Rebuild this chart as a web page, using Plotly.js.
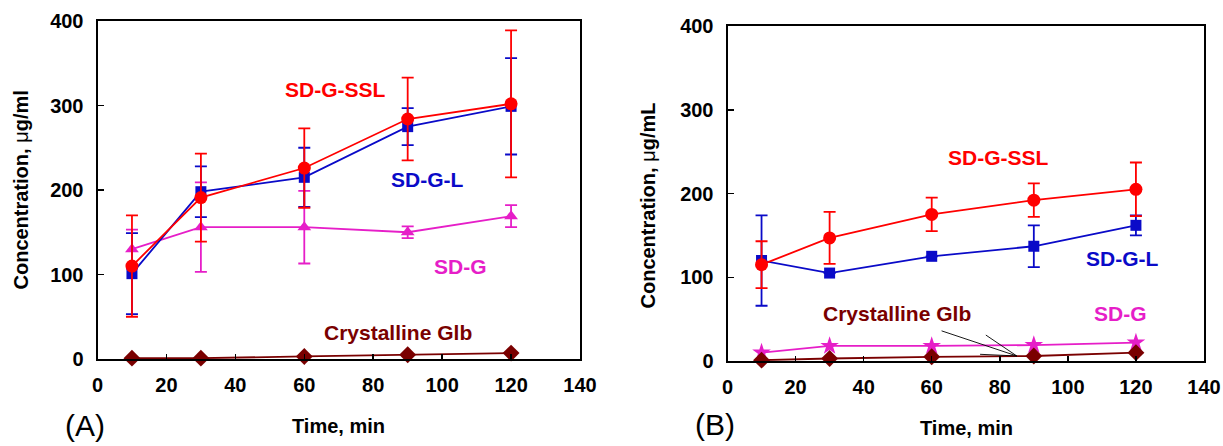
<!DOCTYPE html>
<html>
<head>
<meta charset="utf-8">
<script src="https://cdn.plot.ly/plotly-3.0.1.min.js"></script>
<style>html,body{margin:0;padding:0;background:#fff;}#chart{width:1223px;height:446px;}</style>
</head>
<body>
<div id="chart"></div>
<script>
// ---- data ----
const timeMin = [10, 30, 60, 90, 120];
const xTickVals = [0, 20, 40, 60, 80, 100, 120, 140];
const yTickVals = [0, 100, 200, 300, 400];

// Panel A
const aSSL = [110, 191, 226, 284, 302];
const aSSLerr = [60, 52, 47, 49, 87];
const aL = [101, 198, 215, 275, 299];
const aLerr = [48, 30, 35, 22, 57];
const aG = [130, 156, 156, 150, 169];
const aGerr = [23, 53, 43, 7, 13];
const aCryst = [1, 1, 3, 5, 7];

// Panel B
const bSSL = [115, 147, 175, 192, 205];
const bSSLerr = [28, 31, 20, 20, 32];
const bL = [120, 105, 125, 137, 162];
const bLerr = [54, 0, 0, 25, 12];
const bG = [10, 18, 18, 19, 22];
const bCryst = [1, 3, 5, 6, 10];

// callout lines in panel B (from label toward curves), data coords
const calloutStartX = [62.9, 75.9, 74.2];
const calloutStartY = [36, 31, 8];
const calloutEnd = [85, 6];

const seriesNames = ['SD-G-SSL', 'SD-G-L', 'SD-G', 'Crystalline Glb'];

// ---- styles ----
const RED = '#ff0000', BLUE = '#0a0ac8', MAG = '#e61ec8', DRED = '#7a0000';
const FONT = 'Arial, "Liberation Sans", sans-serif';

function tr(x, y, err, color, symbol, size, xa, ya, name) {
  const t = {
    x: x, y: y, type: 'scatter', mode: 'lines+markers', name: name,
    xaxis: xa, yaxis: ya,
    line: {color: color, width: 1.8},
    marker: {color: color, symbol: symbol, size: size, line: {width: 0}},
    showlegend: false, cliponaxis: false
  };
  if (err) t.error_y = {type: 'data', array: err, visible: true, color: color, thickness: 1.8, width: 6};
  return t;
}

const data = [
  tr(timeMin, aCryst, null, DRED, 'diamond', 13, 'x', 'y', seriesNames[3]),
  tr(timeMin, aG, aGerr, MAG, 'triangle-up', 12, 'x', 'y', seriesNames[2]),
  tr(timeMin, aL, aLerr, BLUE, 'square', 11, 'x', 'y', seriesNames[1]),
  tr(timeMin, aSSL, aSSLerr, RED, 'circle', 13, 'x', 'y', seriesNames[0]),
  tr(timeMin, bG, null, MAG, 'star', 14, 'x2', 'y2', seriesNames[2]),
  tr(timeMin, bCryst, null, DRED, 'diamond', 13, 'x2', 'y2', seriesNames[3]),
  tr(timeMin, bL, bLerr, BLUE, 'square', 11, 'x2', 'y2', seriesNames[1]),
  tr(timeMin, bSSL, bSSLerr, RED, 'circle', 13, 'x2', 'y2', seriesNames[0])
];

const W = 1223, H = 446;
const px = v => v / W, py = v => 1 - v / H;

function xax(d, anchor) {
  return {domain: d, anchor: anchor, range: [0, 140], tickvals: xTickVals, ticktext: xTickVals.map(String),
    showgrid: false, zeroline: false, showline: true, linecolor: '#000', linewidth: 2, mirror: true,
    ticks: 'inside', ticklen: 5, tickwidth: 1.5, tickcolor: '#000', ticklabelstandoff: 7,
    tickfont: {family: FONT, size: 20, color: '#000', weight: 'bold'}, fixedrange: true};
}
function yax(d, anchor) {
  return {domain: d, anchor: anchor, range: [0, 400], tickvals: yTickVals, ticktext: yTickVals.map(String),
    showgrid: false, zeroline: false, showline: true, linecolor: '#000', linewidth: 2, mirror: true,
    ticks: 'inside', ticklen: 6, tickwidth: 1.5, tickcolor: '#000', ticklabelstandoff: 8,
    tickfont: {family: FONT, size: 20, color: '#000', weight: 'bold'}, fixedrange: true};
}

function lab(text, x, y, color, xr, yr) {
  return {text: text, x: x, y: y, xref: xr, yref: yr, showarrow: false,
    font: {family: FONT, size: 21, color: color, weight: 'bold'}, xanchor: 'center', yanchor: 'middle'};
}
function ptxt(text, x, y, size, bold, angle) {
  return {text: text, x: px(x), y: py(y), xref: 'paper', yref: 'paper', showarrow: false,
    textangle: angle || 0,
    font: {family: FONT, size: size, color: '#000', weight: bold ? 'bold' : 'normal'},
    xanchor: 'center', yanchor: 'middle'};
}
const MU = '<span style="font-weight:normal">μ</span>';

const annotations = [
  lab(seriesNames[0], 69.1, 319, RED, 'x', 'y'),
  lab(seriesNames[1], 95.7, 213, BLUE, 'x', 'y'),
  lab(seriesNames[2], 105.4, 109, MAG, 'x', 'y'),
  lab(seriesNames[3], 87.1, 31.6, DRED, 'x', 'y'),
  lab(seriesNames[0], 79.6, 243, RED, 'x2', 'y2'),
  lab(seriesNames[1], 116, 122.6, BLUE, 'x2', 'y2'),
  lab(seriesNames[2], 115.4, 57, MAG, 'x2', 'y2'),
  lab(seriesNames[3], 49.7, 57, DRED, 'x2', 'y2'),
  ptxt('Concentration, ' + MU + 'g/ml', 20.5, 190, 20, true, -90),
  ptxt('Concentration, ' + MU + 'g/mL', 647.5, 206, 20, true, -90),
  ptxt('Time, min', 338.7, 425.5, 20, true),
  ptxt('Time, min', 966.8, 428, 20, true),
  ptxt('(A)', 85, 425, 30, false),
  ptxt('(B)', 715, 424, 30, false)
];

const shapes = calloutStartX.map((sx, i) => ({
  type: 'line', xref: 'x2', yref: 'y2', x0: sx, y0: calloutStartY[i], x1: calloutEnd[0], y1: calloutEnd[1],
  line: {color: '#000', width: 0.9}
}));

const layout = {
  width: W, height: H, margin: {l: 0, r: 0, t: 0, b: 0},
  paper_bgcolor: '#fff', plot_bgcolor: '#fff', showlegend: false,
  xaxis: xax([px(97.5), px(580)], 'y'),
  yaxis: yax([py(359), py(21)], 'x'),
  xaxis2: xax([px(727.5), px(1204)], 'y2'),
  yaxis2: yax([py(361), py(26)], 'x2'),
  annotations: annotations, shapes: shapes
};

Plotly.newPlot('chart', data, layout, {staticPlot: true, displayModeBar: false});
</script>
</body>
</html>
